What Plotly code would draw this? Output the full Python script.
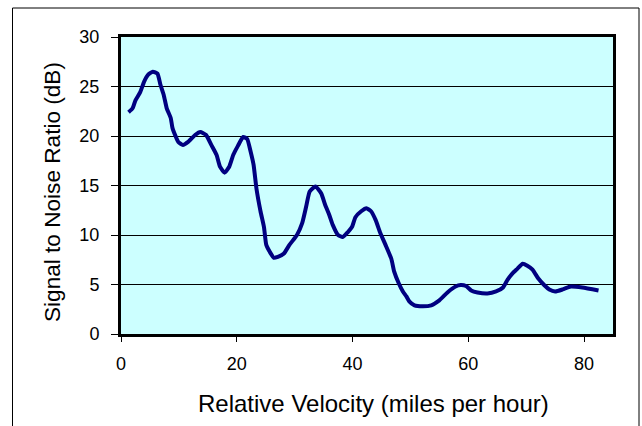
import plotly.graph_objects as go

velocity = [1.3, 2.0, 2.5, 3.3, 4.0, 4.7, 5.5, 6.3, 6.8, 7.4,
            7.9, 8.6, 8.9, 9.9, 10.7, 11.6, 12.8, 13.7, 14.7, 15.6,
            16.5, 17.1, 17.9, 18.7, 19.4, 20.2, 21.1, 21.8, 22.4, 22.9,
            23.4, 24.1, 24.7, 25.1, 25.7, 26.4, 27.1, 28.1, 29.1, 30.4,
            31.3, 32.0, 32.6, 33.6, 34.6, 35.3, 36.0, 36.6, 37.5, 38.3,
            39.2, 39.9, 40.5, 41.5, 42.4, 43.2, 44.0, 44.8, 45.7, 46.7,
            47.2, 48.0, 48.7, 49.3, 49.8, 50.7, 52.1, 53.6, 55.0, 56.4,
            57.8, 58.7, 59.6, 60.5, 61.6, 63.3, 64.8, 66.0, 66.8, 67.6,
            68.5, 69.4, 70.2, 71.1, 72.1, 73.1, 74.0, 75.0, 76.3, 77.7,
            79.7, 82.5]
snr_db = [22.4, 22.8, 23.6, 24.4, 25.5, 26.2, 26.5, 26.3, 25.2, 24.1,
          22.8, 21.8, 20.8, 19.4, 19.1, 19.4, 20.1, 20.4, 20.1, 19.1,
          18.1, 16.9, 16.3, 16.9, 18.1, 19.0, 19.9, 19.7, 18.4, 17.1,
          14.7, 12.4, 10.8, 9.0, 8.3, 7.7, 7.8, 8.1, 9.0, 10.0,
          11.2, 12.9, 14.4, 14.9, 14.2, 13.0, 12.0, 11.0, 10.0, 9.8,
          10.3, 10.8, 11.8, 12.4, 12.7, 12.4, 11.5, 10.2, 9.0, 7.6,
          6.3, 5.1, 4.3, 3.8, 3.3, 2.9, 2.8, 2.9, 3.4, 4.2,
          4.8, 4.95, 4.85, 4.4, 4.2, 4.1, 4.3, 4.7, 5.5, 6.1,
          6.6, 7.1, 6.9, 6.5, 5.6, 4.95, 4.5, 4.3, 4.5, 4.8,
          4.7, 4.4]

x_ticks = [0, 20, 40, 60, 80]
y_ticks = [0, 5, 10, 15, 20, 25, 30]
x_title = "Relative Velocity (miles per hour)"
y_title = "Signal to Noise Ratio (dB)"

W, H = 642, 426
L, R, T, B = 121, 29, 37, 92
pw, ph = W - L - R, H - T - B


def px_x(p):
    return (p - L) / pw


def px_y(p):
    return (H - B - p) / ph


fig = go.Figure()
fig.add_trace(go.Scatter(
    x=velocity, y=snr_db, mode="lines",
    line=dict(color="#000080", width=4, shape="spline", smoothing=0.5),
    showlegend=False, hoverinfo="skip",
))

font = "Liberation Sans, Arial, sans-serif"
fig.update_layout(
    width=W, height=H,
    margin=dict(l=L, r=R, t=T, b=B, pad=0),
    paper_bgcolor="white",
    plot_bgcolor="#CCFFFF",
    font=dict(family=font, color="black"),
    xaxis=dict(
        range=[0, 85], tickvals=x_ticks, ticks="outside", ticklen=5,
        tickcolor="black", tickwidth=1,
        showgrid=False, zeroline=False,
        showline=True, linecolor="black", linewidth=3, mirror=True,
        tickfont=dict(size=18, family=font), ticklabelstandoff=6,
    ),
    yaxis=dict(
        range=[0, 30], tickvals=y_ticks, ticks="outside", ticklen=7,
        tickcolor="black", tickwidth=1,
        showgrid=True, gridcolor="black", gridwidth=1, zeroline=False,
        showline=True, linecolor="black", linewidth=3, mirror=True,
        tickfont=dict(size=18, family=font), ticklabelstandoff=8,
    ),
)

fig.add_annotation(text=x_title, xref="paper", yref="paper",
                   x=px_x(373), y=px_y(403), xanchor="center", yanchor="middle",
                   showarrow=False, font=dict(size=24, family=font))
fig.add_annotation(text=y_title, xref="paper", yref="paper", textangle=-90,
                   x=px_x(52), y=px_y(192), xanchor="center", yanchor="middle",
                   showarrow=False, font=dict(size=22.6, family=font))

# outer chart-area frame
fig.add_shape(type="rect", xref="paper", yref="paper",
              x0=px_x(12.5), x1=px_x(639), y0=px_y(440), y1=px_y(8),
              line=dict(color="black", width=1), fillcolor="rgba(0,0,0,0)",
              layer="below")

fig.write_html("out.html", config={"displayModeBar": False},
               post_script="document.body.style.margin='0';document.body.style.overflow='hidden';")
